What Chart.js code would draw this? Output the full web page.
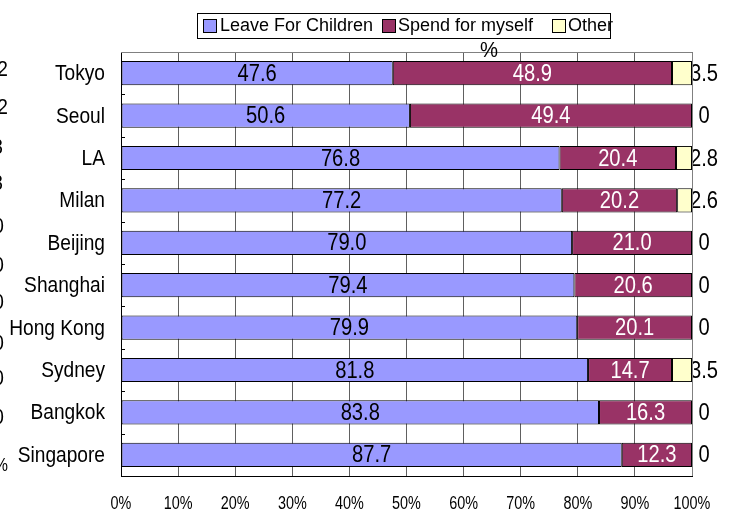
<!DOCTYPE html>
<html><head><meta charset="utf-8">
<script src="https://cdn.jsdelivr.net/npm/chart.js@4"></script>
<style>html,body{margin:0;padding:0;background:#fff}#wrap{width:731px;height:515px;position:relative}</style>
</head><body><div id="wrap"><canvas id="c" width="731" height="515"></canvas></div>
<script>
const cities = ['Tokyo','Seoul','LA','Milan','Beijing','Shanghai','Hong Kong','Sydney','Bangkok','Singapore'];
const leaveForChildren = [47.6, 50.6, 76.8, 77.2, 79.0, 79.4, 79.9, 81.8, 83.8, 87.7];
const spendForMyself   = [48.9, 49.4, 20.4, 20.2, 21.0, 20.6, 20.1, 14.7, 16.3, 12.3];
const other            = [3.5, 0, 2.8, 2.6, 0, 0, 0, 3.5, 0, 0];
const seriesNames = ['Leave For Children', 'Spend for myself', 'Other'];
const xTickLabels = ['0%','10%','20%','30%','40%','50%','60%','70%','80%','90%','100%'];
const axisTitle = '%';
const clippedLabels = ['2','2','3','3','0','0','0','0','0','0','%'];

const FONT = '"Liberation Sans", Arial, sans-serif';
const colors = ['#9999FF', '#993366', '#FFFFCC'];
const raw = [leaveForChildren, spendForMyself, other];
const totals = cities.map((_, i) => leaveForChildren[i] + spendForMyself[i] + other[i]);
const pct = raw.map(arr => arr.map((v, i) => v / totals[i] * 100));

// draw text with horizontal condensing (the reference uses a narrow face)
function txt(ctx, s, x, y, align, size, squeeze, color) {
  ctx.save();
  ctx.font = size + 'px ' + FONT;
  ctx.fillStyle = color;
  ctx.textBaseline = 'middle';
  ctx.textAlign = align;
  ctx.translate(x, y);
  ctx.scale(squeeze, 1);
  ctx.fillText(s, 0, 0);
  ctx.restore();
}

const labelPlugin = {
  id: 'labels',
  afterDatasetsDraw(chart) {
    const ctx = chart.ctx;
    const ca = chart.chartArea;
    chart.data.datasets.forEach((ds, di) => {
      const meta = chart.getDatasetMeta(di);
      meta.data.forEach((el, i) => {
        const v = raw[di][i];
        if (di === 0) {
          txt(ctx, v.toFixed(1), (el.x + el.base) / 2, el.y + 1, 'center', 24, 0.84, '#000');
        } else if (di === 1) {
          txt(ctx, v.toFixed(1), (el.x + el.base) / 2, el.y + 1, 'center', 24, 0.84, '#fff');
        } else {
          txt(ctx, v === 0 ? '0' : v.toFixed(1), ca.right + 12, el.y + 1, 'center', 24, 0.84, '#000');
        }
      });
    });
  },
  afterDraw(chart) {
    const ctx = chart.ctx;
    const ca = chart.chartArea;
    const xs = chart.scales.x, ysc = chart.scales.y;
    ctx.save();
    // top & right plot border
    ctx.strokeStyle = '#808080';
    ctx.lineWidth = 1;
    ctx.beginPath();
    ctx.moveTo(ca.left, ca.top + 0.5);
    ctx.lineTo(ca.right + 0.5, ca.top + 0.5);
    ctx.lineTo(ca.right + 0.5, ca.bottom);
    ctx.stroke();
    // small inward ticks on the category axis
    ctx.strokeStyle = '#000';
    ctx.beginPath();
    for (let i = 1; i < cities.length; i++) {
      const y = Math.round((ysc.getPixelForValue(i - 1) + ysc.getPixelForValue(i)) / 2) + 0.5;
      ctx.moveTo(ca.left, y);
      ctx.lineTo(ca.left + 4, y);
    }
    ctx.stroke();
    ctx.restore();
    // category labels
    cities.forEach((c, i) => txt(ctx, c, 105, ysc.getPixelForValue(i) + 1, 'right', 22, 0.87, '#000'));
    // value axis tick labels
    xTickLabels.forEach((t, i) => txt(ctx, t, xs.getPixelForValue(i * 10), 504, 'center', 18, 0.8, '#000'));
    // axis title
    txt(ctx, axisTitle, 489, 51, 'center', 22, 0.92, '#000');
    // clipped labels at the left edge (from a neighbouring chart)
    const cy = [70, 108, 148, 184, 227, 266, 303, 344, 379, 418, 466];
    const cx = [8, 8, 3, 3, 4, 4, 4, 4, 4, 4, 8];
    clippedLabels.forEach((t, i) => txt(ctx, t, cx[i], cy[i], 'right', t === '%' ? 18 : 22, 0.87, '#000'));
    // legend
    ctx.save();
    ctx.strokeStyle = '#000';
    ctx.lineWidth = 1;
    ctx.strokeRect(197.5, 13.5, 413, 25);
    const sq = [203, 382, 552];
    const tx = [220, 398, 568];
    seriesNames.forEach((n, i) => {
      ctx.fillStyle = colors[i];
      ctx.fillRect(sq[i] + 0.5, 19.5, 13, 13);
      ctx.strokeRect(sq[i] + 0.5, 19.5, 13, 13);
      txt(ctx, n, tx[i], 26, 'left', 18, 1, '#000');
    });
    ctx.restore();
  }
};

new Chart(document.getElementById('c'), {
  type: 'bar',
  data: {
    labels: cities,
    datasets: seriesNames.map((n, i) => ({
      label: n,
      data: pct[i],
      backgroundColor: colors[i],
      borderColor: '#000',
      borderWidth: 1,
      borderSkipped: false,
      barPercentage: 0.57,
      categoryPercentage: 1
    }))
  },
  options: {
    indexAxis: 'y',
    responsive: false,
    animation: false,
    devicePixelRatio: 1,
    layout: { padding: { top: 52, right: 39, left: 0, bottom: 0 } },
    plugins: { legend: { display: false }, tooltip: { enabled: false }, title: { display: false } },
    scales: {
      x: {
        type: 'linear', stacked: true, min: 0, max: 100,
        afterFit(s) { s.height = 39; },
        ticks: { stepSize: 10, display: false },
        grid: { color: '#606060', drawTicks: false, lineWidth: 1 },
        border: { color: '#000', width: 1 }
      },
      y: {
        type: 'category', stacked: true,
        afterFit(s) { s.width = 121; },
        ticks: { display: false },
        grid: { display: false },
        border: { color: '#000', width: 1 }
      }
    }
  },
  plugins: [labelPlugin]
});
</script></body></html>
